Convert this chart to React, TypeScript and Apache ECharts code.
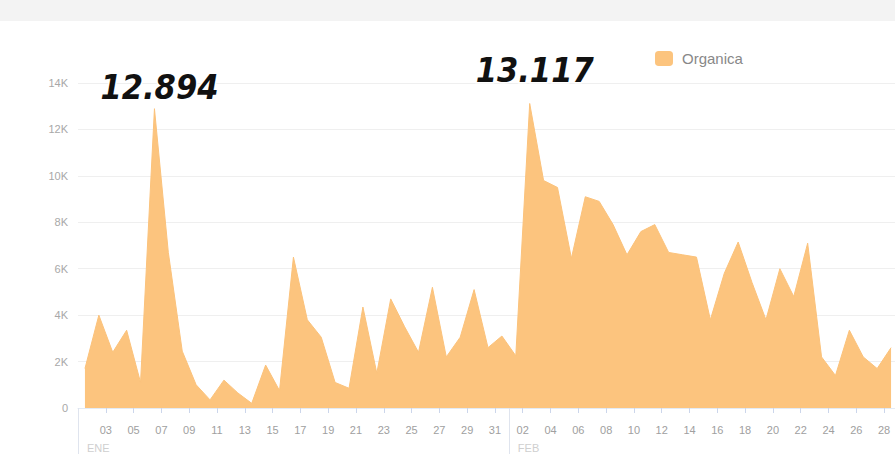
import React, { useEffect, useRef } from "react";
import * as echarts from "echarts";

// Daily values, 1 Jan .. 28 Feb
const seriesName = "Organica";
const values: number[] = [
  1700, 4000, 2400, 3350, 1100, 12894, 6700, 2450, 1000, 350, 1200, 650, 200, 1850, 750, 6500,
  3800, 3050, 1100, 850, 4350, 1500, 4700, 3500, 2400, 5200, 2200, 3050, 5100, 2600, 3100,
  2250, 13117, 9800, 9500, 6450, 9100, 8900, 7900, 6600, 7600, 7900, 6700, 6600, 6500, 3800,
  5800, 7150, 5400, 3800, 6000, 4800, 7100, 2200, 1400, 3350, 2200, 1700, 2600,
];
const dayLabels: string[] = [
  "01", "02", "03", "04", "05", "06", "07", "08", "09", "10", "11", "12", "13", "14", "15", "16",
  "17", "18", "19", "20", "21", "22", "23", "24", "25", "26", "27", "28", "29", "30", "31",
  "01", "02", "03", "04", "05", "06", "07", "08", "09", "10", "11", "12", "13", "14", "15", "16",
  "17", "18", "19", "20", "21", "22", "23", "24", "25", "26", "27", "28",
];
const monthLabels: string[] = ["ENE", "FEB"];
const monthStarts: number[] = [0, 31];
const peakIndices: number[] = [5, 32];
const peakLabelDistances: number[] = [5, 16];
const yTicks: number[] = [0, 2000, 4000, 6000, 8000, 10000, 12000, 14000];

const fmtThousands = (v: number) =>
  v >= 1000 ? Math.floor(v / 1000) + "." + String(v % 1000).padStart(3, "0") : String(v);

export default function App() {
  const ref = useRef<HTMLDivElement>(null);
  useEffect(() => {
    if (!ref.current) return;
    const chart = echarts.init(ref.current, undefined, { renderer: "svg" });
    const font = '"Liberation Sans", Arial, sans-serif';
    const data = values.map((v, i) => {
      const pk = peakIndices.indexOf(i);
      if (pk >= 0) {
        return {
          value: [i + 0.5, v],
          label: {
            show: true,
            position: "top",
            distance: peakLabelDistances[pk],
            offset: [5, 0],
            formatter: (p: any) => fmtThousands(p.value[1]),
            fontFamily: '"DejaVu Sans Condensed", "DejaVu Sans", sans-serif',
            fontWeight: "bold",
            fontStyle: "italic",
            fontSize: 34,
            color: "#111",
            textBorderColor: "#fff",
            textBorderWidth: 3,
          },
        };
      }
      return { value: [i + 0.5, v] };
    });
    const monthTickInterval = monthStarts[1] - monthStarts[0];
    chart.setOption({
      animation: false,
      backgroundColor: "#fff",
      graphic: [
        {
          type: "rect",
          shape: { x: 0, y: 0, width: 895, height: 21 },
          style: { fill: "#f3f3f3" },
          silent: true,
        },
      ],
      legend: {
        left: 650,
        top: 46,
        icon: "roundRect",
        itemWidth: 18,
        itemHeight: 15,
        data: [seriesName],
        textStyle: { fontFamily: font, fontSize: 15, color: "#888", padding: [0, 0, 0, 4] },
      },
      grid: {
        left: 78,
        width: 820,
        top: 83,
        bottom: 50,
        containLabel: false,
        outerBoundsMode: "none",
      },
      xAxis: [
        {
          type: "value",
          min: 0,
          max: dayLabels.length,
          interval: 2,
          axisLine: { show: true, lineStyle: { color: "#e3ebf5", width: 1 } },
          axisTick: { show: true, length: 5, lineStyle: { color: "#ccd6eb" } },
          splitLine: { show: false },
          axisLabel: {
            margin: 16,
            fontFamily: font,
            fontSize: 11,
            color: "#a0a0a0",
            showMinLabel: true,
            showMaxLabel: true,
            formatter: (v: number) => (v > 0 && v < dayLabels.length ? dayLabels[v] : ""),
          },
        },
        {
          type: "value",
          min: 0,
          max: dayLabels.length,
          interval: monthTickInterval,
          position: "bottom",
          axisLine: { show: false },
          axisTick: { show: true, length: 46, lineStyle: { color: "#dfe4ee" } },
          splitLine: { show: false },
          axisLabel: {
            margin: 34,
            align: "left",
            padding: [0, 0, 0, 9],
            fontFamily: font,
            fontSize: 11,
            color: "#cfcfcf",
            formatter: (v: number) => {
              const k = monthStarts.indexOf(v);
              return k >= 0 ? monthLabels[k] : "";
            },
          },
        },
      ],
      yAxis: {
        type: "value",
        min: yTicks[0],
        max: yTicks[yTicks.length - 1],
        interval: yTicks[1] - yTicks[0],
        axisLine: { show: false },
        axisTick: { show: false },
        splitLine: { lineStyle: { color: "#efefef" } },
        axisLabel: {
          margin: 10,
          fontFamily: font,
          fontSize: 11,
          color: "#a8a8a8",
          formatter: (v: number) => (v === 0 ? "0" : v / 1000 + "K"),
        },
      },
      series: [
        {
          name: seriesName,
          type: "line",
          xAxisIndex: 0,
          data,
          showSymbol: true,
          symbol: "circle",
          symbolSize: 0,
          color: "#fcc47e",
          lineStyle: { width: 1, color: "#fbc27b" },
          areaStyle: { color: "#fcc47e", opacity: 1 },
          z: 2,
        },
      ],
    });
    return () => chart.dispose();
  }, []);
  return (
    <div
      ref={ref}
      style={{ position: "fixed", left: 0, top: 0, width: 895, height: 458, background: "#fff" }}
    />
  );
}
